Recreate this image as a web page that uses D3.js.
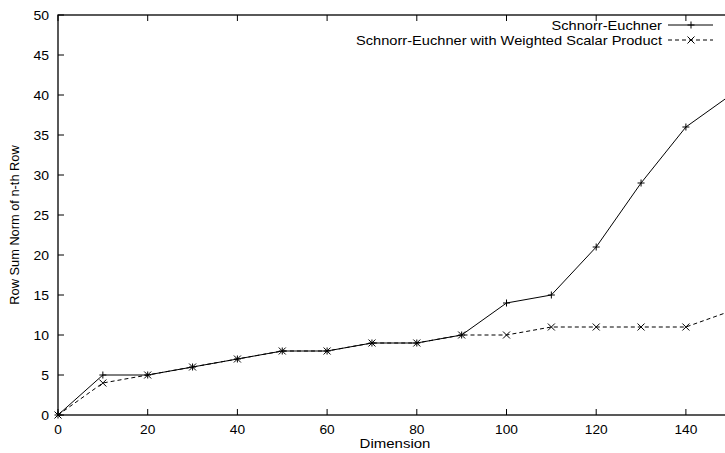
<!DOCTYPE html>
<html>
<head>
<meta charset="utf-8">
<script src="https://cdn.jsdelivr.net/npm/d3@7"></script>
<style>
  body { margin: 0; background: #fff; }
  text { font-family: "Liberation Sans", Arial, sans-serif; fill: #000; }
</style>
</head>
<body>
<svg id="chart" width="725" height="453"></svg>
<script>
const dims = [0, 10, 20, 30, 40, 50, 60, 70, 80, 90, 100, 110, 120, 130, 140, 150];
const schnorr = [0, 5, 5, 6, 7, 8, 8, 9, 9, 10, 14, 15, 21, 29, 36, 40];
const weighted = [0, 4, 5, 6, 7, 8, 8, 9, 9, 10, 10, 11, 11, 11, 11, 13];
const xTicks = [0, 20, 40, 60, 80, 100, 120, 140];
const yTicks = [0, 5, 10, 15, 20, 25, 30, 35, 40, 45, 50];
const seriesNames = ["Schnorr-Euchner", "Schnorr-Euchner with Weighted Scalar Product"];

const svg = d3.select("#chart");
const margin = {left: 58, top: 15, bottom: 415};
const plotRight = 58 + 150 * 4.485;

const x = d3.scaleLinear().domain([0, 150]).range([margin.left, plotRight]);
const y = d3.scaleLinear().domain([0, 50]).range([margin.bottom, margin.top]);

const fontSize = "12.5px";

// text stretched a bit horizontally, like the source's output
function label(g, tx, ty, str, anchor, sx) {
  return g.append("text")
    .attr("transform", `translate(${tx},${ty}) scale(${sx},1)`)
    .attr("text-anchor", anchor).attr("font-size", fontSize).text(str);
}

// border
svg.append("rect")
  .attr("x", x(0)).attr("y", y(50))
  .attr("width", x(150) - x(0)).attr("height", y(0) - y(50))
  .attr("fill", "none").attr("stroke", "#000").attr("stroke-width", 1.3);

// ticks (inside, mirrored on top)
const tickLen = 6;
xTicks.forEach(t => {
  svg.append("line").attr("x1", x(t)).attr("x2", x(t))
    .attr("y1", y(0)).attr("y2", y(0) - tickLen).attr("stroke", "#000");
  svg.append("line").attr("x1", x(t)).attr("x2", x(t))
    .attr("y1", y(50)).attr("y2", y(50) + tickLen).attr("stroke", "#000");
  label(svg, x(t), y(0) + 19, t, "middle", 1.1);
});
yTicks.forEach(t => {
  svg.append("line").attr("x1", x(0)).attr("x2", x(0) + tickLen)
    .attr("y1", y(t)).attr("y2", y(t)).attr("stroke", "#000");
  label(svg, x(0) - 9, y(t) + 4.5, t, "end", 1.12);
});

// axis labels
label(svg, 395, 448, "Dimension", "middle", 1.2);
svg.append("text")
  .attr("transform", `translate(19, ${(y(0) + y(50)) / 2 + 10}) rotate(-90)`)
  .attr("text-anchor", "middle").attr("font-size", "12.8px")
  .text("Row Sum Norm of n-th Row");

const line = d3.line().x(d => x(d[0])).y(d => y(d[1]));
const markSize = 3.5;

function plus(g, cx, cy) {
  g.append("path")
    .attr("d", `M${cx - markSize},${cy}H${cx + markSize}M${cx},${cy - markSize}V${cy + markSize}`)
    .attr("stroke", "#000").attr("stroke-width", 1);
}
function cross(g, cx, cy) {
  g.append("path")
    .attr("d", `M${cx - markSize},${cy - markSize}L${cx + markSize},${cy + markSize}M${cx - markSize},${cy + markSize}L${cx + markSize},${cy - markSize}`)
    .attr("stroke", "#000").attr("stroke-width", 1);
}

const series = [
  {name: seriesNames[0], values: schnorr, dash: null, mark: plus},
  {name: seriesNames[1], values: weighted, dash: "4,3", mark: cross}
];

const plot = svg.append("g");
series.forEach(s => {
  const pts = dims.map((d, i) => [d, s.values[i]]);
  plot.append("path").datum(pts)
    .attr("d", line)
    .attr("fill", "none").attr("stroke", "#000").attr("stroke-width", 1)
    .attr("stroke-dasharray", s.dash);
  pts.forEach(p => s.mark(plot, x(p[0]), y(p[1])));
});

// legend
const legend = svg.append("g");
series.forEach((s, i) => {
  const ly = 25 + i * 15;
  label(legend, 662, ly + 4.5, s.name, "end", 1.17);
  legend.append("line").attr("x1", 668).attr("x2", 713)
    .attr("y1", ly).attr("y2", ly)
    .attr("stroke", "#000").attr("stroke-dasharray", s.dash);
  s.mark(legend, 691, ly);
});
</script>
</body>
</html>
